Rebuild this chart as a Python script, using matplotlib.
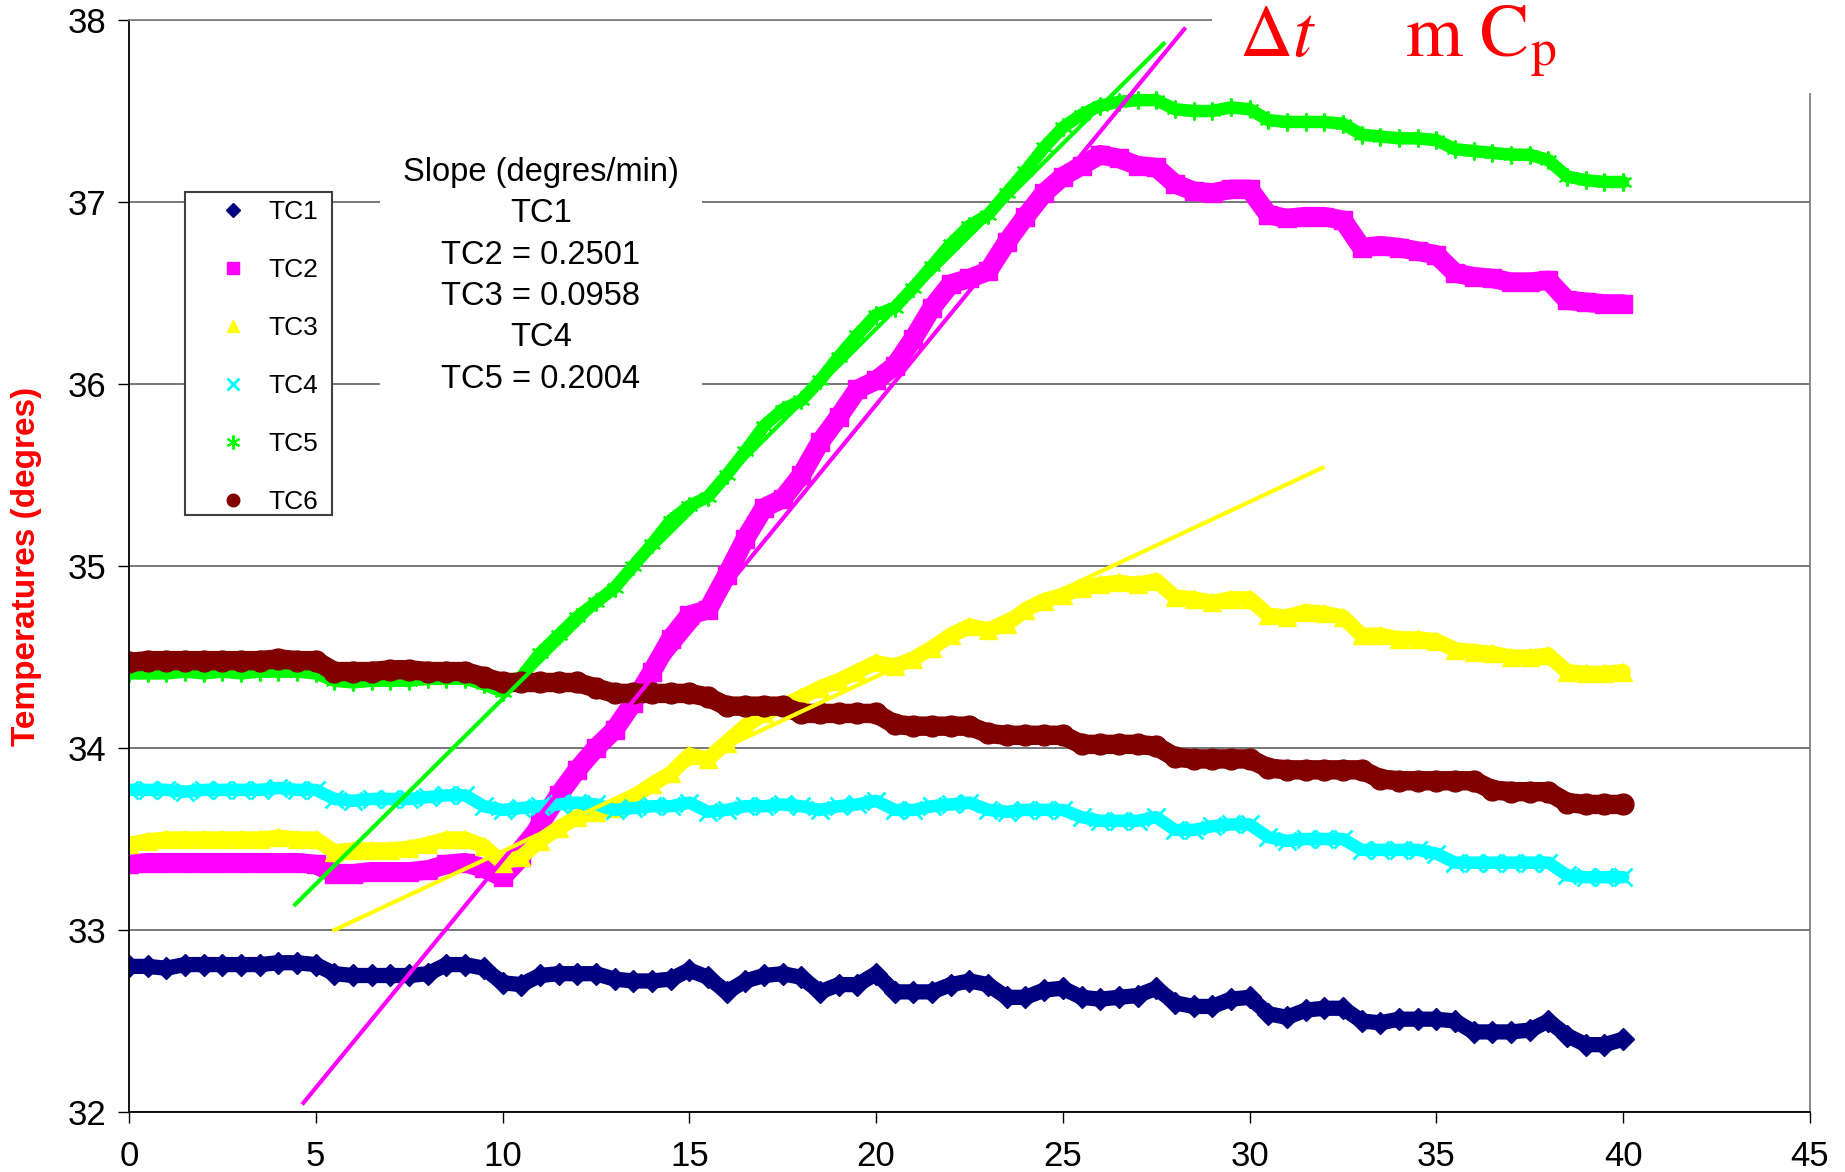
import matplotlib
matplotlib.use('Agg')
import matplotlib.pyplot as plt
from matplotlib.lines import Line2D
from matplotlib.patches import Rectangle

plt.rcParams['font.family'] = ['Liberation Sans', 'DejaVu Sans']
plt.rcParams['mathtext.fontset'] = 'stix'

# time axis (min), one reading every half minute
minutes = [i * 0.5 for i in range(81)]

tc1 = [32.80, 32.80, 32.79, 32.81, 32.81, 32.81, 32.81, 32.81, 32.82, 32.82,
       32.81, 32.76, 32.75, 32.75, 32.75, 32.75, 32.76, 32.81, 32.81, 32.79,
       32.71, 32.70, 32.75, 32.76, 32.76, 32.76, 32.73, 32.72, 32.72, 32.73,
       32.78, 32.74, 32.66, 32.72, 32.75, 32.76, 32.74, 32.66, 32.70, 32.70,
       32.76, 32.66, 32.66, 32.66, 32.70, 32.72, 32.70, 32.63, 32.63, 32.67,
       32.68, 32.63, 32.62, 32.63, 32.64, 32.68, 32.60, 32.58, 32.58, 32.62,
       32.63, 32.54, 32.52, 32.56, 32.57, 32.57, 32.50, 32.49, 32.51, 32.51,
       32.51, 32.50, 32.44, 32.44, 32.44, 32.45, 32.50, 32.42, 32.37, 32.37,
       32.40]
tc2 = [33.36, 33.37, 33.37, 33.37, 33.37, 33.37, 33.37, 33.37, 33.37, 33.37,
       33.36, 33.31, 33.31, 33.32, 33.32, 33.32, 33.33, 33.36, 33.37, 33.34,
       33.29, 33.40, 33.58, 33.74, 33.88, 34.00, 34.10, 34.25, 34.42, 34.60,
       34.73, 34.76, 34.95, 35.15, 35.32, 35.37, 35.50, 35.68, 35.82, 35.97,
       36.02, 36.10, 36.25, 36.42, 36.55, 36.58, 36.62, 36.78, 36.92, 37.05,
       37.14, 37.20, 37.26, 37.24, 37.20, 37.19, 37.10, 37.06, 37.05, 37.07,
       37.07, 36.93, 36.91, 36.92, 36.92, 36.90, 36.75, 36.76, 36.75, 36.73,
       36.71, 36.61, 36.59, 36.58, 36.56, 36.56, 36.57, 36.46, 36.45, 36.44,
       36.44]
tc3 = [33.47, 33.49, 33.50, 33.50, 33.50, 33.50, 33.50, 33.50, 33.51, 33.50,
       33.50, 33.43, 33.44, 33.44, 33.44, 33.45, 33.47, 33.50, 33.50, 33.46,
       33.37, 33.40, 33.49, 33.56, 33.62, 33.65, 33.67, 33.73, 33.80, 33.86,
       33.96, 33.94, 34.03, 34.12, 34.19, 34.23, 34.28, 34.33, 34.37, 34.42,
       34.47, 34.45, 34.49, 34.55, 34.62, 34.67, 34.65, 34.68, 34.76, 34.81,
       34.84, 34.88, 34.90, 34.91, 34.90, 34.92, 34.83, 34.82, 34.80, 34.82,
       34.82, 34.73, 34.72, 34.75, 34.74, 34.72, 34.62, 34.62, 34.60, 34.60,
       34.59, 34.54, 34.53, 34.52, 34.50, 34.50, 34.51, 34.42, 34.41, 34.41,
       34.42]
tc4 = [33.77, 33.77, 33.77, 33.76, 33.77, 33.77, 33.77, 33.77, 33.78, 33.77,
       33.77, 33.72, 33.71, 33.72, 33.72, 33.72, 33.73, 33.74, 33.74, 33.68,
       33.66, 33.67, 33.68, 33.69, 33.70, 33.69, 33.66, 33.67, 33.68, 33.68,
       33.70, 33.65, 33.66, 33.68, 33.68, 33.69, 33.68, 33.66, 33.68, 33.69,
       33.71, 33.66, 33.66, 33.68, 33.69, 33.70, 33.66, 33.65, 33.66, 33.66,
       33.66, 33.62, 33.60, 33.60, 33.60, 33.62, 33.55, 33.55, 33.57, 33.58,
       33.58, 33.51, 33.49, 33.50, 33.50, 33.50, 33.44, 33.44, 33.44, 33.44,
       33.42, 33.37, 33.37, 33.37, 33.37, 33.37, 33.37, 33.30, 33.29, 33.29,
       33.29]
tc5 = [34.41, 34.41, 34.41, 34.42, 34.41, 34.42, 34.41, 34.42, 34.42, 34.42,
       34.41, 34.37, 34.36, 34.37, 34.37, 34.37, 34.38, 34.38, 34.38, 34.35,
       34.31, 34.39, 34.52, 34.62, 34.72, 34.80, 34.88, 35.00, 35.12, 35.25,
       35.33, 35.38, 35.50, 35.63, 35.77, 35.86, 35.91, 36.02, 36.15, 36.27,
       36.38, 36.42, 36.53, 36.65, 36.77, 36.87, 36.93, 37.05, 37.17, 37.30,
       37.41, 37.48, 37.53, 37.55, 37.56, 37.56, 37.51, 37.50, 37.50, 37.52,
       37.51, 37.45, 37.44, 37.44, 37.44, 37.43, 37.37, 37.36, 37.35, 37.35,
       37.34, 37.29, 37.28, 37.27, 37.26, 37.26, 37.23, 37.14, 37.12, 37.11,
       37.11]
tc6 = [34.47, 34.48, 34.48, 34.48, 34.48, 34.48, 34.48, 34.48, 34.49, 34.48,
       34.48, 34.42, 34.42, 34.42, 34.43, 34.43, 34.42, 34.42, 34.42, 34.39,
       34.36, 34.36, 34.36, 34.36, 34.36, 34.33, 34.30, 34.30, 34.30, 34.30,
       34.30, 34.28, 34.23, 34.23, 34.23, 34.23, 34.19, 34.19, 34.19, 34.19,
       34.19, 34.13, 34.12, 34.12, 34.12, 34.12, 34.08, 34.07, 34.07, 34.07,
       34.07, 34.02, 34.02, 34.02, 34.02, 34.01, 33.95, 33.94, 33.94, 33.94,
       33.94, 33.89, 33.88, 33.88, 33.88, 33.88, 33.88, 33.83, 33.82, 33.82,
       33.82, 33.82, 33.82, 33.77, 33.76, 33.76, 33.76, 33.70, 33.69, 33.69,
       33.69]

# linear trend lines over the heating period (end points)
fit_tc2_x = [4.67, 28.25]
fit_tc2_y = [32.05, 37.95]
fit_tc3_x = [5.5, 31.95]
fit_tc3_y = [33.0, 35.54]
fit_tc5_x = [4.45, 27.7]
fit_tc5_y = [33.14, 37.87]

slope_text = 'Slope (degres/min)\nTC1\nTC2 = 0.2501\nTC3 = 0.0958\nTC4\nTC5 = 0.2004'

x_ticks = [0, 5, 10, 15, 20, 25, 30, 35, 40, 45]
y_ticks = [32, 33, 34, 35, 36, 37, 38]

# name, values, colour, marker, marker size, band width, marker edge width
series = [
    ('TC1', tc1, '#000080', 'D', 11, 11, 1),
    ('TC2', tc2, '#FF00FF', 's', 13, 14, 1),
    ('TC3', tc3, '#FFFF00', '^', 13, 11, 1),
    ('TC4', tc4, '#00FFFF', 'x', 13, 9, 2),
    ('TC5', tc5, '#00FF00', (6, 2, 0), 13, 9, 1.5),
    ('TC6', tc6, '#800000', 'o', 15, 14, 1),
]
legend_sizes = [7, 9, 9, 9, 10, 9]

fig = plt.figure(figsize=(18.45, 11.72), dpi=100)
ax = fig.add_axes([0.0699, 0.0512, 0.9111, 0.9317])

for name, vals, col, mk, ms, lw, mew in series:
    ax.plot(minutes, vals, color=col, lw=lw, marker=mk, ms=ms, mfc=col, mec=col,
            mew=mew, solid_joinstyle='round', solid_capstyle='round', zorder=2)

# trend lines drawn on top of the data
ax.plot(fit_tc5_x, fit_tc5_y, color='#00FF00', lw=3, zorder=2.2)
ax.plot(fit_tc2_x, fit_tc2_y, color='#FF00FF', lw=3, zorder=2.2)
ax.plot(fit_tc3_x, fit_tc3_y, color='#FFFF00', lw=3, zorder=2.2)

ax.set_xlim(0, 45)
ax.set_ylim(32, 38)
ax.set_xticks(x_ticks)
ax.set_yticks(y_ticks)
ax.set_axisbelow(True)
ax.yaxis.grid(True, color='#606060', lw=1.2)
ax.tick_params(axis='both', direction='out', length=8, width=1, labelsize=25)
ax.tick_params(axis='x', pad=12)
ax.tick_params(axis='y', pad=8)
for side in ['left', 'bottom']:
    ax.spines[side].set_color('black')
    ax.spines[side].set_linewidth(1.3)
for side in ['top', 'right']:
    ax.spines[side].set_color('#808080')
    ax.spines[side].set_linewidth(1.3)

ax.set_ylabel('Temperatures (degres)', color='red', fontsize=24, fontweight='bold')
ax.yaxis.set_label_coords(-0.052, 0.5)

# white area in the top right corner where the equation sits
ax.add_patch(Rectangle((29.0, 37.6), 20, 1.0, fc='white', ec='none',
                       clip_on=False, zorder=2.6))
ax.text(29.72, 37.80, r'$\Delta t$', color='red', fontsize=53, va='baseline',
        clip_on=False, zorder=3)
ax.text(34.15, 37.80, r'$\mathrm{m\ C_p}$', color='red', fontsize=53, va='baseline',
        clip_on=False, zorder=3)

ax.text(11.03, 36.595, slope_text, ha='center', va='center', fontsize=23.5,
        linespacing=1.43, zorder=3,
        bbox=dict(boxstyle='square,pad=0.7', fc='white', ec='none'))

# legend box drawn by hand so the rows can be spread out
ax.add_patch(Rectangle((0.0333, 0.5467), 0.0874, 0.2958, transform=ax.transAxes,
                       fc='white', ec='#404040', lw=1.5, zorder=4.9))
handles = [Line2D([], [], ls='none', marker=mk, ms=s, color=col, mfc=col, mec=col,
                  mew=mew, label=name)
           for (name, vals, col, mk, ms, lw, mew), s in zip(series, legend_sizes)]
leg = ax.legend(handles=handles, loc='upper left', bbox_to_anchor=(0.05, 0.835),
                borderaxespad=0, borderpad=0, fontsize=19, frameon=False,
                handlelength=1.52, handletextpad=0.57, labelspacing=1.29)
leg.set_zorder(5)

fig.savefig('out.png', dpi=100)
